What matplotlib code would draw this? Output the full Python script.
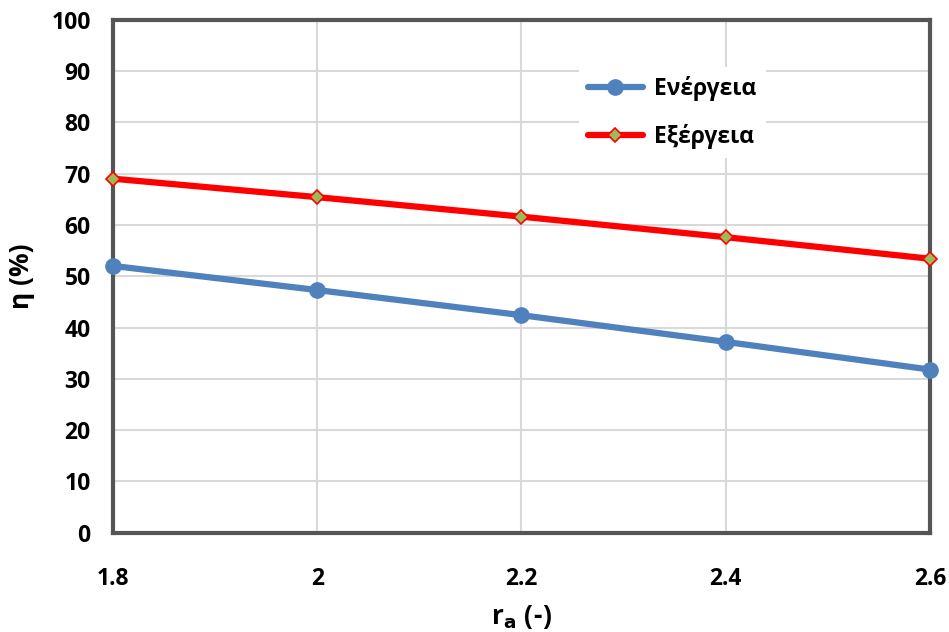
import matplotlib
matplotlib.use("Agg")
import matplotlib.pyplot as plt

r_a = [1.8, 2.0, 2.2, 2.4, 2.6]
energy = [52.0, 47.3, 42.4, 37.2, 31.8]
exergy = [69.0, 65.4, 61.6, 57.6, 53.4]
x_ticks = [1.8, 2.0, 2.2, 2.4, 2.6]
x_ticklabels = ["1.8", "2", "2.2", "2.4", "2.6"]
y_ticks = list(range(0, 101, 10))

plt.rcParams["font.family"] = ["Open Sans", "DejaVu Sans"]
plt.rcParams["font.weight"] = "bold"
plt.rcParams["axes.labelweight"] = "bold"

fig = plt.figure(figsize=(9.49, 6.32), dpi=100)
ax = fig.add_axes([0.119, 0.157, 0.861, 0.812])

ax.plot(r_a, energy, color="#4f81bd", lw=4.5, marker="o", ms=11,
        mfc="#4f81bd", mec="#4f81bd", label="Ενέργεια", zorder=3,
        clip_on=False, solid_capstyle="round")
ax.plot(r_a, exergy, color="#ff0000", lw=4.5, marker="D", ms=7,
        mfc="#9bbb59", mec="#ff0000", mew=1.2, label="Εξέργεια", zorder=3,
        clip_on=False, solid_capstyle="round")

ax.set_xlim(1.8, 2.6)
ax.set_ylim(0, 100)
ax.set_xticks(x_ticks)
ax.set_xticklabels(x_ticklabels)
ax.set_yticks(y_ticks)

ax.grid(True, color="#d9d9d9", lw=1.5, zorder=0)
ax.set_axisbelow(True)
for s in ax.spines.values():
    s.set_color("#555555")
    s.set_linewidth(3)

ax.tick_params(axis="both", length=0, labelsize=16.5)
ax.tick_params(axis="x", pad=25)
ax.tick_params(axis="y", pad=16)

ax.set_xlabel("r$_\\mathbf{a}$ (-)", fontsize=19, labelpad=8)
ax.set_ylabel("η (%)", fontsize=19, labelpad=12)

leg = ax.legend(loc="upper left", bbox_to_anchor=(0.556, 0.93),
                frameon=True, fancybox=False, edgecolor="none",
                facecolor="white", framealpha=1, handlelength=2.4,
                handletextpad=0.5, labelspacing=1.0, fontsize=16.5)

fig.savefig("out.png", dpi=100)
